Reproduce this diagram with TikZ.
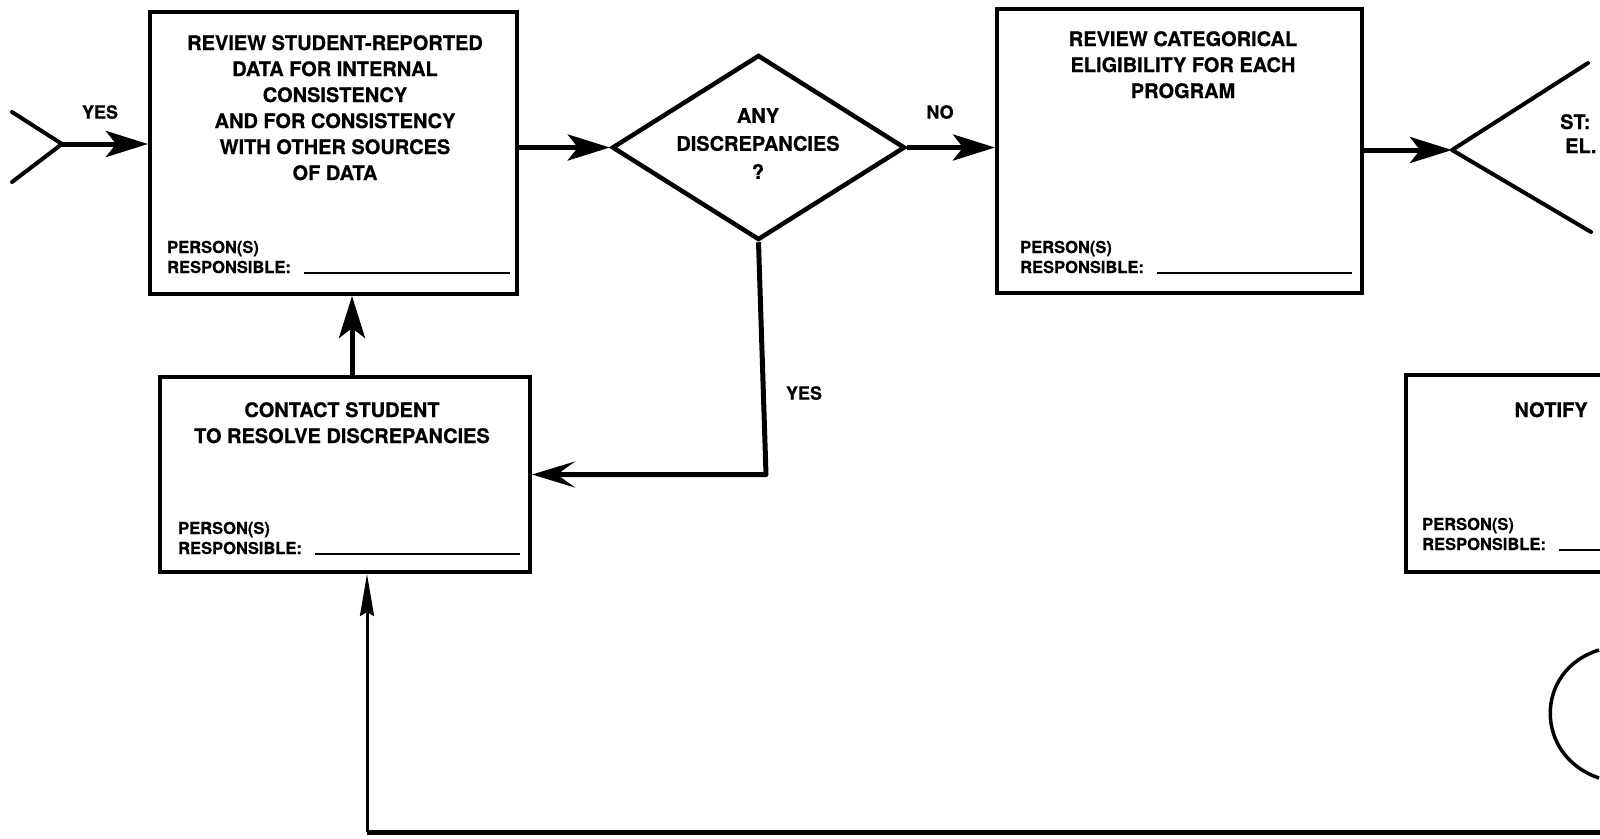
\documentclass[tikz,border=0pt]{standalone}
\usepackage{fontspec}
\setmainfont{TeX Gyre Heros}[BoldFeatures={FakeBold=0.6}]
\usetikzlibrary{arrows.meta,shapes.geometric}
\newcommand\ttlfont{\bfseries\fontsize{20}{26}\selectfont}
\newcommand\diafont{\bfseries\fontsize{20}{28}\selectfont}
\newcommand\cutfont{\bfseries\fontsize{20}{24}\selectfont}
\newcommand\smlfont{\bfseries\fontsize{16.5}{20}\selectfont}
\newcommand\lblfont{\bfseries\fontsize{18}{22}\selectfont}

\begin{document}
\begin{tikzpicture}[x=1pt,y=-1pt,
  box/.style={draw, rectangle, line width=4pt, inner sep=0},
  decision/.style={draw, diamond, line width=4.5pt, inner sep=0},
  ttl/.style={font=\ttlfont, align=center, inner sep=0, anchor=north},
  who/.style={font=\smlfont, inner sep=0, anchor=base west},
  lbl/.style={font=\lblfont, inner sep=0},
  flow/.style={line width=5pt, -{Stealth[length=42pt,width=26pt,inset=10pt]}},
  flowback/.style={line width=5pt, line join=round, -{Stealth[length=43pt,width=26pt,inset=18pt]}},
  thinflow/.style={line width=3pt, -{Stealth[length=42pt,width=14pt,inset=4pt]}},
  fillin/.style={line width=2pt},
  arm/.style={line width=4pt, line cap=round, line join=round},
]
\useasboundingbox (0,0) rectangle (1600,838);
\clip (0,0) rectangle (1600,838);

% ---- process boxes -------------------------------------------------
\node[box, minimum width=367pt, minimum height=282pt] (b1) at (333.5,153) {};
\node[box, minimum width=365pt, minimum height=284pt] (b3) at (1179.5,151) {};
\node[box, minimum width=370pt, minimum height=195pt] (b2) at (345,474.5) {};
\node[box, minimum width=400pt, minimum height=197pt] (b4) at (1606,473.5) {};
\node[decision, minimum width=293pt, minimum height=185pt] (d) at (758.5,147.5) {};

% ---- box texts -----------------------------------------------------
\node[ttl] (t1) at (335,35) {REVIEW STUDENT-REPORTED\\DATA FOR INTERNAL\\CONSISTENCY\\AND FOR CONSISTENCY\\WITH OTHER SOURCES\\OF DATA};
\node[ttl] (t3) at (1183,31) {REVIEW CATEGORICAL\\ELIGIBILITY FOR EACH\\PROGRAM};
\node[ttl] (t2) at (342,402) {CONTACT STUDENT\\TO RESOLVE DISCREPANCIES};
\node[ttl] (t4) at (1551,402) {NOTIFY};
\node[ttl, font=\diafont] (td) at (758,108) {ANY\\DISCREPANCIES\\?};
\node[ttl, font=\cutfont, align=left, anchor=north west] (tv) at (1560,114) {ST:\\\hspace*{5pt}EL.};

% ---- responsibility lines ------------------------------------------
\node[who] (p1) at (167,253) {PERSON(S)};
\node[who] (r1) at (167,273) {RESPONSIBLE:};
\coordinate (u1) at (510,273);
\draw[fillin] ([xshift=13pt]r1.base east) -- (u1);

\node[who] (p3) at (1020,253) {PERSON(S)};
\node[who] (r3) at (1020,273) {RESPONSIBLE:};
\coordinate (u3) at (1352,273);
\draw[fillin] ([xshift=13pt]r3.base east) -- (u3);

\node[who] (p2) at (178,534) {PERSON(S)};
\node[who] (r2) at (178,554) {RESPONSIBLE:};
\coordinate (u2) at (520,554);
\draw[fillin] ([xshift=13pt]r2.base east) -- (u2);

\node[who] (p4) at (1422,530) {PERSON(S)};
\node[who] (r4) at (1422,550) {RESPONSIBLE:};
\coordinate (u4) at (1604,550);
\draw[fillin] ([xshift=13pt]r4.base east) -- (u4);

% ---- connector symbols ---------------------------------------------
\coordinate (vin) at (62,144);
\coordinate (vinA) at (12,112);
\coordinate (vinB) at (12,182);
\draw[arm] (vinA) -- (vin) -- (vinB);

\coordinate (vout) at (1452,150);
\coordinate (voutA) at (1588,63);
\coordinate (voutB) at (1591,232);
\draw[arm] (voutA) -- (vout) -- (voutB);

% terminal edge at the right
\draw[line width=3.5pt] (1599,650) .. controls (1534,670) and (1534,756) .. (1599,778);

% ---- flow ----------------------------------------------------------
\node[lbl] (yes1) at (100,112) {YES};
\node[lbl] (no1) at (940,112) {NO};
\node[lbl] (yes2) at (804,393) {YES};

\draw[flow] (vin) -- (vin -| b1.west);
\draw[flow] (d.west -| b1.east) -- (d.west);
\draw[flow] (d.east) -- (d.east -| b3.west);
\draw[flow] (vout -| b3.east) -- (vout);

\coordinate (ycorner) at (766,474.5);
\draw[flowback] (d.south) -- (ycorner) -- (b2.east);

\coordinate (up) at (352,377);
\draw[flow] (up) -- (up |- b1.south);

\coordinate (fbR) at (1606,832);
\coordinate (fbC) at (367,832);
\draw[line width=5pt] (fbR) -- (fbC);
\draw[thinflow] (fbC) -- (fbC |- b2.south);
\end{tikzpicture}
\end{document}
